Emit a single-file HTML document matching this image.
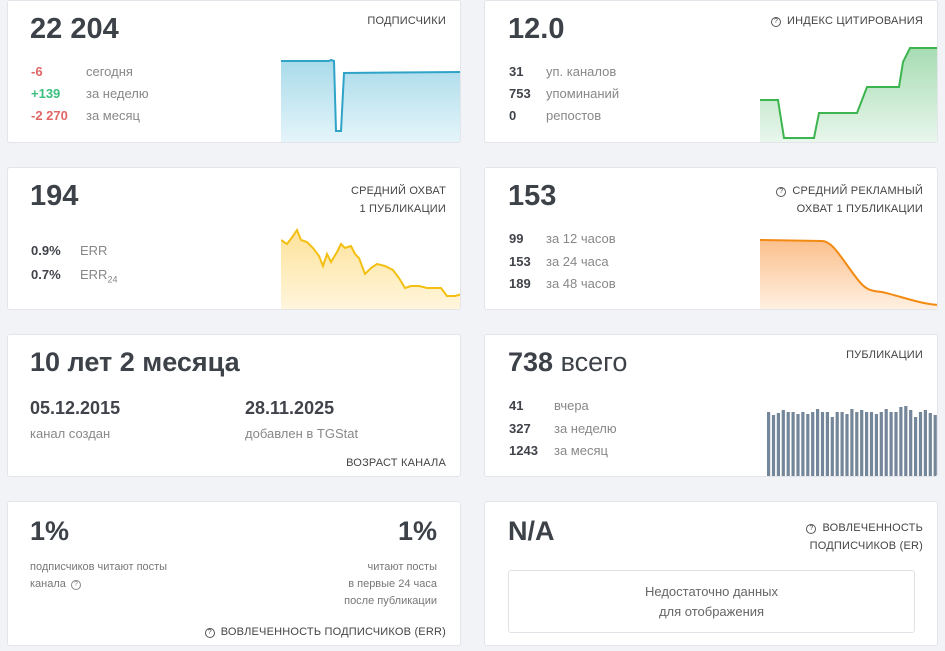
<!DOCTYPE html>
<html><head><meta charset="utf-8"><style>
body{margin:0;width:945px;height:651px;background:#f2f3f6;font-family:"Liberation Sans",sans-serif;position:relative;overflow:hidden;color:#3b3f45}
.c{position:absolute;background:#fff;border:1px solid #e3e5ea;border-radius:3px;box-sizing:border-box;overflow:hidden}
.a{position:absolute;white-space:nowrap}
.big{font-size:27px;font-weight:bold;color:#3d4148}
.t{font-size:11px;color:#444;letter-spacing:.2px;text-align:right}
.r{font-size:13px;color:#888}
.n{font-size:13px;font-weight:bold;color:#40444a}
.q{display:inline-block;width:8px;height:8px;border:1px solid #555;border-radius:50%;font-size:7px;line-height:8px;text-align:center;vertical-align:1px;margin-right:6px}
svg{position:absolute}
</style></head><body>
<div class="c" style="left:7px;top:0;width:454px;height:143px">
<div class="a big" style="left:22px;top:12px;font-size:29px">22 204</div>
<div class="a t" style="right:14px;top:14px">ПОДПИСЧИКИ</div>
<div class="a n" style="left:23px;top:63px;color:#e06666">-6</div><div class="a r" style="left:78px;top:63px">сегодня</div>
<div class="a n" style="left:23px;top:85px;color:#3bbf7f">+139</div><div class="a r" style="left:78px;top:85px">за неделю</div>
<div class="a n" style="left:23px;top:107px;color:#e06666">-2 270</div><div class="a r" style="left:78px;top:107px">за месяц</div>
<svg style="left:273px;top:50px" width="181" height="93"><defs><linearGradient id="g1" x1="0" y1="0" x2="0" y2="1"><stop offset="0" stop-color="#a9dbea"/><stop offset="1" stop-color="#e6f5fa"/></linearGradient></defs>
<path d="M0 10 L48 10 L50 9 L53 10 L55 80 L60 80 L63 22 L181 21 L181 93 L0 93Z" fill="url(#g1)"/>
<path d="M0 10 L48 10 L50 9 L53 10 L55 80 L60 80 L63 22 L181 21" fill="none" stroke="#2fa3c8" stroke-width="2"/></svg>
</div>
<div class="c" style="left:484px;top:0;width:454px;height:143px">
<div class="a big" style="left:23px;top:12px;font-size:29px">12.0</div>
<div class="a t" style="right:14px;top:14px"><span class="q">?</span>ИНДЕКС ЦИТИРОВАНИЯ</div>
<div class="a n" style="left:24px;top:63px">31</div><div class="a r" style="left:61px;top:63px">уп. каналов</div>
<div class="a n" style="left:24px;top:85px">753</div><div class="a r" style="left:61px;top:85px">упоминаний</div>
<div class="a n" style="left:24px;top:107px">0</div><div class="a r" style="left:61px;top:107px">репостов</div>
<svg style="left:275px;top:40px" width="179" height="103"><defs><linearGradient id="g2" x1="0" y1="0" x2="0" y2="1"><stop offset="0" stop-color="#a6dcb3"/><stop offset="1" stop-color="#eaf7ed"/></linearGradient></defs>
<path d="M0 59 L18 59 L24 97 L54 97 L59 72 L97 72 L102 59 L107 46 L139 46 L143 21 L150 7 L179 7 L179 103 L0 103Z" fill="url(#g2)"/>
<path d="M0 59 L18 59 L24 97 L54 97 L59 72 L97 72 L102 59 L107 46 L139 46 L143 21 L150 7 L179 7" fill="none" stroke="#3cb54f" stroke-width="2"/></svg>
</div>
<div class="c" style="left:7px;top:167px;width:454px;height:143px">
<div class="a big" style="left:22px;top:12px;font-size:29px">194</div>
<div class="a t" style="right:14px;top:14px;line-height:18px">СРЕДНИЙ ОХВАТ<br>1 ПУБЛИКАЦИИ</div>
<div class="a n" style="left:23px;top:75px">0.9%</div><div class="a r" style="left:72px;top:75px">ERR</div>
<div class="a n" style="left:23px;top:99px">0.7%</div><div class="a r" style="left:72px;top:99px">ERR<sub style="font-size:9px">24</sub></div>
<svg style="left:273px;top:58px" width="181" height="85"><defs><linearGradient id="g3" x1="0" y1="0" x2="0" y2="1"><stop offset="0" stop-color="#fde29a"/><stop offset="1" stop-color="#fff6de"/></linearGradient></defs>
<path d="M0 14 L6 18 L12 10 L16 4 L20 14 L26 16 L32 22 L38 30 L42 40 L46 28 L50 36 L56 26 L60 18 L64 22 L70 20 L74 28 L78 32 L84 48 L90 42 L96 38 L104 40 L112 44 L118 52 L124 62 L130 60 L138 60 L146 62 L154 62 L160 62 L166 70 L174 70 L181 68 L181 85 L0 85Z" fill="url(#g3)"/>
<path d="M0 14 L6 18 L12 10 L16 4 L20 14 L26 16 L32 22 L38 30 L42 40 L46 28 L50 36 L56 26 L60 18 L64 22 L70 20 L74 28 L78 32 L84 48 L90 42 L96 38 L104 40 L112 44 L118 52 L124 62 L130 60 L138 60 L146 62 L154 62 L160 62 L166 70 L174 70 L181 68" fill="none" stroke="#f3c012" stroke-width="2"/></svg>
</div>
<div class="c" style="left:484px;top:167px;width:454px;height:143px">
<div class="a big" style="left:23px;top:12px;font-size:29px">153</div>
<div class="a t" style="right:14px;top:14px;line-height:18px"><span class="q">?</span>СРЕДНИЙ РЕКЛАМНЫЙ<br>ОХВАТ 1 ПУБЛИКАЦИИ</div>
<div class="a n" style="left:24px;top:63px">99</div><div class="a r" style="left:61px;top:63px">за 12 часов</div>
<div class="a n" style="left:24px;top:86px">153</div><div class="a r" style="left:61px;top:86px">за 24 часа</div>
<div class="a n" style="left:24px;top:108px">189</div><div class="a r" style="left:61px;top:108px">за 48 часов</div>
<svg style="left:275px;top:70px" width="179" height="73"><defs><linearGradient id="g4" x1="0" y1="0" x2="0" y2="1"><stop offset="0" stop-color="#fbc08c"/><stop offset="1" stop-color="#fff1e4"/></linearGradient></defs>
<path d="M0 2 L62 3 C72 3 80 18 95 38 C105 52 110 53 122 54 C140 58 160 66 179 67 L179 73 L0 73Z" fill="url(#g4)"/>
<path d="M0 2 L62 3 C72 3 80 18 95 38 C105 52 110 53 122 54 C140 58 160 66 179 67" fill="none" stroke="#f38a12" stroke-width="2"/></svg>
</div>
<div class="c" style="left:7px;top:334px;width:454px;height:143px">
<div class="a big" style="left:22px;top:12px">10 лет 2 месяца</div>
<div class="a" style="left:22px;top:63px;font-size:18px;font-weight:bold;color:#40444a">05.12.2015</div>
<div class="a r" style="left:22px;top:91px">канал создан</div>
<div class="a" style="left:237px;top:63px;font-size:18px;font-weight:bold;color:#40444a">28.11.2025</div>
<div class="a r" style="left:237px;top:91px">добавлен в TGStat</div>
<div class="a t" style="right:14px;top:122px">ВОЗРАСТ КАНАЛА</div>
</div>
<div class="c" style="left:484px;top:334px;width:454px;height:143px">
<div class="a big" style="left:23px;top:12px;font-weight:bold">738 <span style="font-weight:normal">всего</span></div>
<div class="a t" style="right:14px;top:14px">ПУБЛИКАЦИИ</div>
<div class="a n" style="left:24px;top:63px">41</div><div class="a r" style="left:69px;top:63px">вчера</div>
<div class="a n" style="left:24px;top:86px">327</div><div class="a r" style="left:69px;top:86px">за неделю</div>
<div class="a n" style="left:24px;top:108px">1243</div><div class="a r" style="left:69px;top:108px">за месяц</div>
<svg style="left:282px;top:68px" width="172" height="75" fill="#74869a">
<rect x="0.0" y="9" width="3.2" height="66"/><rect x="4.9" y="12" width="3.2" height="63"/><rect x="9.8" y="10" width="3.2" height="65"/><rect x="14.7" y="7" width="3.2" height="68"/><rect x="19.6" y="9" width="3.2" height="66"/><rect x="24.5" y="9" width="3.2" height="66"/><rect x="29.4" y="11" width="3.2" height="64"/><rect x="34.3" y="9" width="3.2" height="66"/><rect x="39.2" y="11" width="3.2" height="64"/><rect x="44.1" y="9" width="3.2" height="66"/><rect x="49.0" y="6" width="3.2" height="69"/><rect x="53.9" y="9" width="3.2" height="66"/><rect x="58.8" y="9" width="3.2" height="66"/><rect x="63.7" y="14" width="3.2" height="61"/><rect x="68.6" y="9" width="3.2" height="66"/><rect x="73.5" y="9" width="3.2" height="66"/><rect x="78.4" y="11" width="3.2" height="64"/><rect x="83.3" y="6" width="3.2" height="69"/><rect x="88.2" y="9" width="3.2" height="66"/><rect x="93.1" y="7" width="3.2" height="68"/><rect x="98.0" y="9" width="3.2" height="66"/><rect x="102.9" y="9" width="3.2" height="66"/><rect x="107.8" y="11" width="3.2" height="64"/><rect x="112.7" y="9" width="3.2" height="66"/><rect x="117.6" y="6" width="3.2" height="69"/><rect x="122.5" y="9" width="3.2" height="66"/><rect x="127.4" y="9" width="3.2" height="66"/><rect x="132.3" y="4" width="3.2" height="71"/><rect x="137.2" y="3" width="3.2" height="72"/><rect x="142.1" y="7" width="3.2" height="68"/><rect x="147.0" y="14" width="3.2" height="61"/><rect x="151.9" y="9" width="3.2" height="66"/><rect x="156.8" y="7" width="3.2" height="68"/><rect x="161.7" y="10" width="3.2" height="65"/><rect x="166.6" y="12" width="3.2" height="63"/>
</svg>
</div>
<div class="c" style="left:7px;top:501px;width:454px;height:145px">
<div class="a big" style="left:22px;top:14px">1%</div>
<div class="a big" style="right:23px;top:14px">1%</div>
<div class="a" style="left:22px;top:57px;font-size:11px;color:#777;line-height:17px">подписчиков читают посты<br>канала <span class="q" style="border-color:#888;color:#888;margin-left:2px">?</span></div>
<div class="a" style="right:23px;top:57px;font-size:11px;color:#777;line-height:17px;text-align:right">читают посты<br>в первые 24 часа<br>после публикации</div>
<div class="a t" style="right:14px;top:124px"><span class="q">?</span>ВОВЛЕЧЕННОСТЬ ПОДПИСЧИКОВ (ERR)</div>
</div>
<div class="c" style="left:484px;top:501px;width:454px;height:145px">
<div class="a big" style="left:23px;top:14px">N/A</div>
<div class="a t" style="right:14px;top:17px;line-height:18px"><span class="q">?</span>ВОВЛЕЧЕННОСТЬ<br>ПОДПИСЧИКОВ (ER)</div>
<div class="a" style="left:23px;top:68px;width:407px;height:63px;border:1px solid #dfe2e7;border-radius:3px;box-sizing:border-box;text-align:center;font-size:13px;color:#666;line-height:20px;padding-top:11px">Недостаточно данных<br>для отображения</div>
</div>
</body></html>
